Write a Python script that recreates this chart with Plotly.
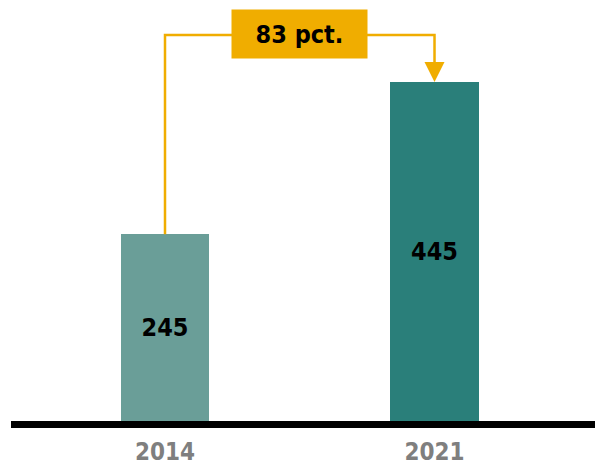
import plotly.graph_objects as go

# Data
years = ["2014", "2021"]
values = [245, 445]
bar_colors = ["#6a9e98", "#2a7f7a"]
change_label = "83 pct."

FONT = "DejaVu Sans Condensed, Liberation Sans Narrow, sans-serif"
ORANGE = "#f0ad00"

x_pos = list(range(len(years)))

fig = go.Figure()
fig.add_trace(go.Bar(
    x=x_pos,
    y=values,
    width=0.327,
    marker=dict(color=bar_colors, line=dict(width=0)),
    text=[str(v) for v in values],
    textposition="inside",
    insidetextanchor="middle",
    textfont=dict(family=FONT, size=25, color="#000000", weight="bold"),
    hoverinfo="skip",
))

# y scale: 0 sits at the top of the thick baseline
y_top = 552.5
y_bot = -9.2
bracket_y = 506.5

shapes = [
    # soft shadow under the baseline
    dict(type="rect", xref="paper", yref="y", x0=0.0, x1=1.0,
         y0=y_bot - 4.5, y1=y_bot - 0.5,
         fillcolor="rgba(0,0,0,0.12)", line=dict(width=0), layer="below"),
    # thick black baseline
    dict(type="rect", xref="paper", yref="y", x0=0.0, x1=1.0,
         y0=y_bot, y1=0, fillcolor="#000000", line=dict(width=0)),
    # bracket from first bar up and across
    dict(type="path", xref="x", yref="y",
         path=f"M {x_pos[0]},{values[0]} L {x_pos[0]},{bracket_y} L {x_pos[1]},{bracket_y} L {x_pos[1]},{values[1] + 20}",
         line=dict(color=ORANGE, width=2.5)),
]

annotations = [
    # arrowhead down onto the second bar
    dict(x=x_pos[1], y=values[1], ax=x_pos[1], ay=values[1] + 22,
         xref="x", yref="y", axref="x", ayref="y",
         showarrow=True, arrowhead=2, arrowsize=1.6, arrowwidth=2.5,
         arrowcolor=ORANGE, text=""),
    # change label box
    dict(x=(x_pos[0] + x_pos[1]) / 2, y=bracket_y, xref="x", yref="y",
         text=f"<b>{change_label}</b>", showarrow=False,
         font=dict(family=FONT, size=25, color="#000000"),
         bgcolor=ORANGE, width=135, height=48, borderpad=0,
         xanchor="center", yanchor="middle", yshift=1),
]

fig.update_layout(
    width=595, height=467,
    margin=dict(l=11, r=0, t=0, b=39, autoexpand=False),
    paper_bgcolor="white", plot_bgcolor="white",
    showlegend=False,
    shapes=shapes,
    annotations=annotations,
    bargap=0,
    xaxis=dict(
        range=[-0.5714, 1.5955],
        tickvals=x_pos, ticktext=years,
        showgrid=False, zeroline=False, showline=False, ticks="",
        tickfont=dict(family=FONT, size=24, color="#7f7f7f", weight="bold"),
        ticklabelstandoff=7,
        automargin=False,
        fixedrange=True,
    ),
    yaxis=dict(
        range=[y_bot, y_top],
        visible=False, showgrid=False, zeroline=False,
        automargin=False,
        fixedrange=True,
    ),
)

fig.write_html("out.html")
